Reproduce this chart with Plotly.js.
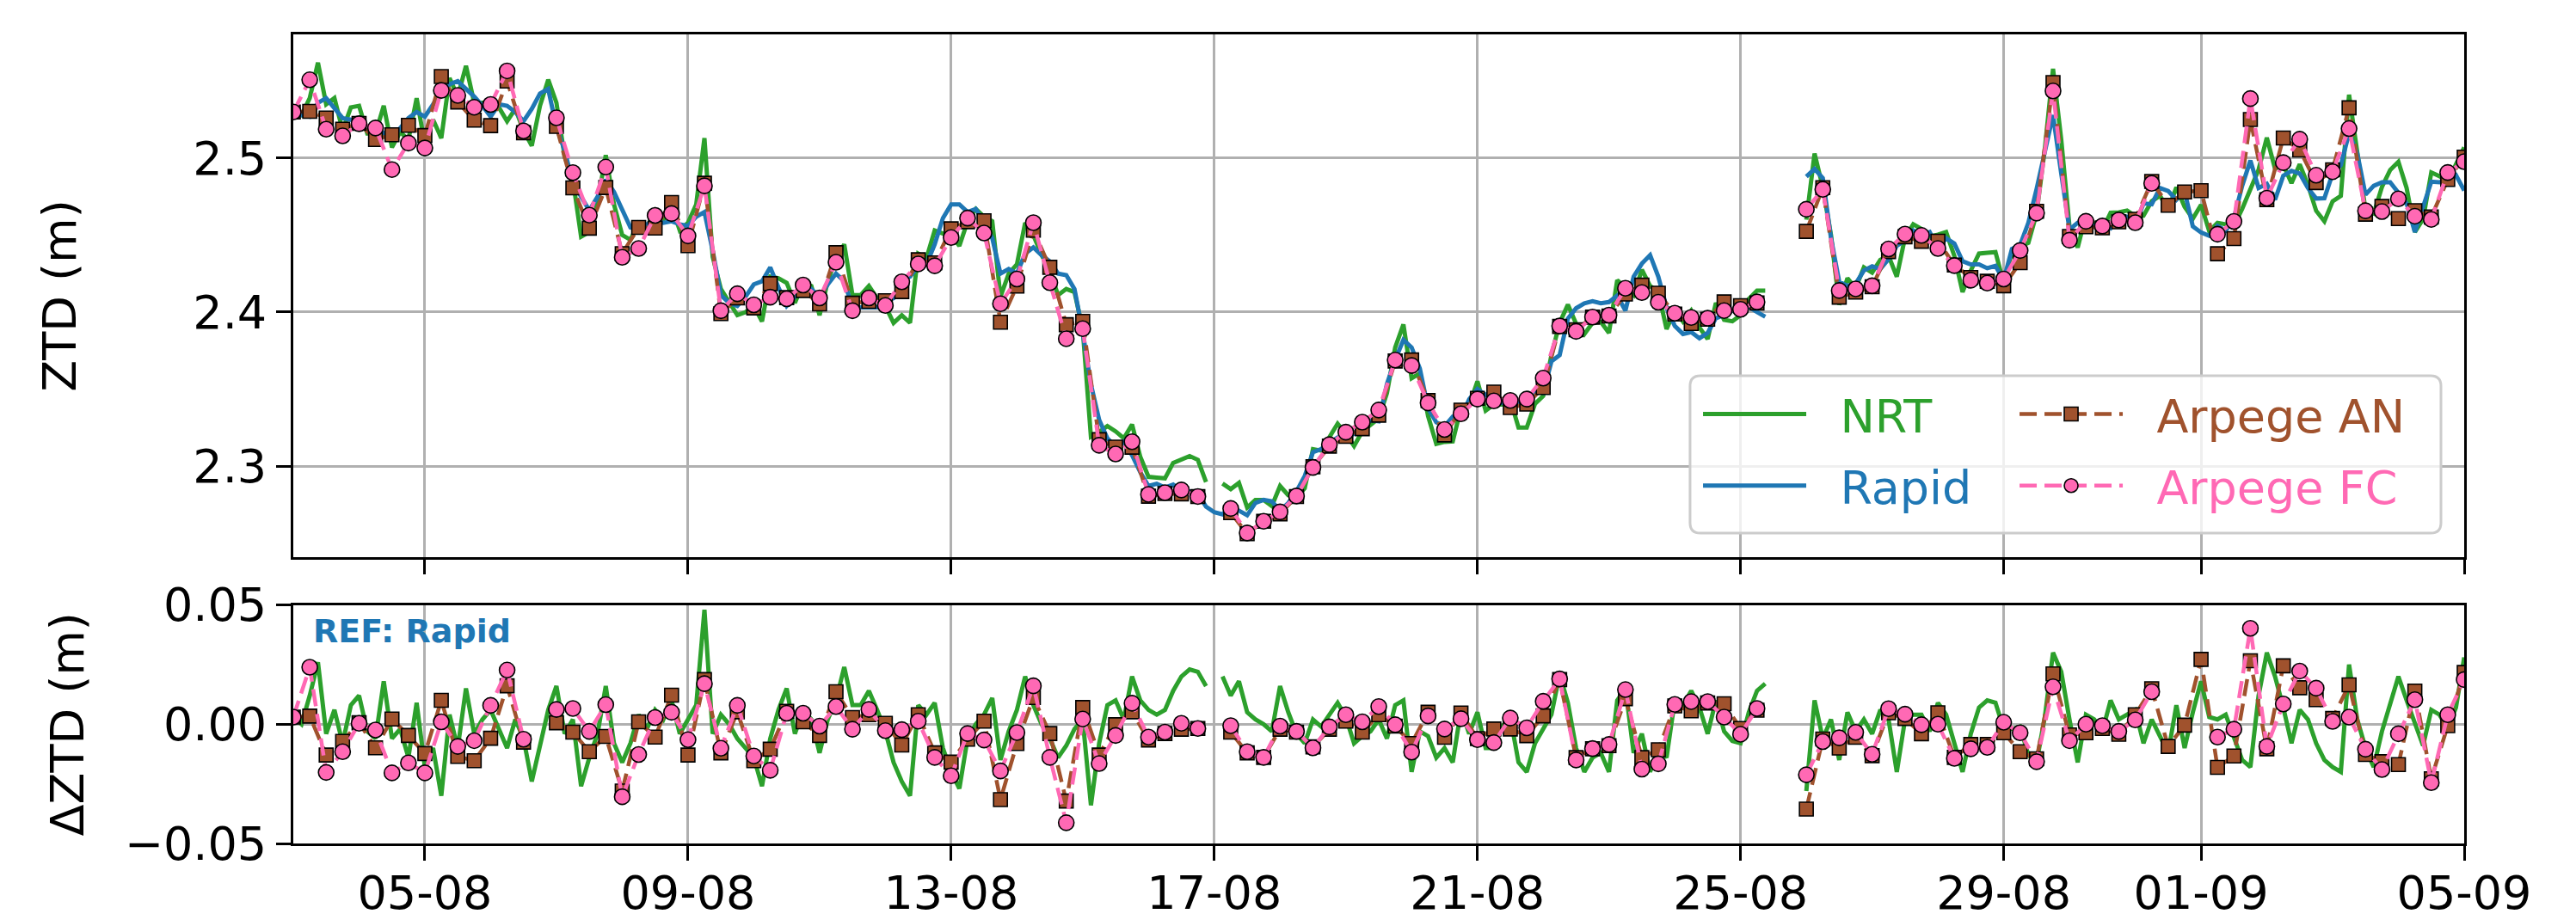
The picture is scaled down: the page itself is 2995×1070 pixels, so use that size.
<!DOCTYPE html>
<html>
<head>
<meta charset="utf-8">
<script src="https://cdn.plot.ly/plotly-3.0.1.min.js"></script>
<style>html,body{margin:0;padding:0;background:#fff;}#chart{width:2995px;height:1070px;}</style>
</head>
<body>
<div id="chart"></div>
<script>
// ---------------- DATA ----------------
// start of the series (UTC), sampling steps in hours
const START = Date.UTC(2023, 7, 3, 0, 0);
const STEP_RAPID_H = 3;   // Rapid and NRT sampling used here
const STEP_ARPEGE_H = 6;  // Arpege AN / FC sampling

// Rapid ZTD (m), every 3 h from 03-08 00:00 to 05-09 00:00 (one row per day)
const rapidZTD = [
 2.527,2.528,2.527,2.536,2.539,2.533,2.526,2.525,
 2.522,2.519,2.522,2.516,2.513,2.519,2.526,2.530,
 2.527,2.535,2.543,2.548,2.550,2.545,2.540,2.534,
 2.527,2.535,2.534,2.530,2.524,2.532,2.542,2.545,
 2.520,2.505,2.484,2.475,2.466,2.475,2.486,2.478,
 2.466,2.455,2.454,2.457,2.460,2.458,2.459,2.457,
 2.456,2.462,2.465,2.440,2.411,2.406,2.404,2.410,
 2.418,2.420,2.429,2.416,2.404,2.410,2.413,2.415,
 2.410,2.418,2.425,2.420,2.403,2.403,2.403,2.403,
 2.407,2.409,2.422,2.423,2.430,2.431,2.444,2.461,
 2.470,2.470,2.465,2.467,2.458,2.448,2.425,2.428,
 2.425,2.438,2.442,2.437,2.433,2.425,2.424,2.415,
 2.387,2.353,2.330,2.318,2.3125,2.316,2.307,2.296,
 2.287,2.2885,2.286,2.288,2.284,2.2835,2.282,2.2736,
 2.270,2.2686,2.273,2.271,2.268,2.276,2.278,2.277,
 2.271,2.276,2.2835,2.2935,2.309,2.311,2.315,2.3185,
 2.318,2.321,2.3275,2.3297,2.329,2.3534,2.369,2.382,
 2.377,2.3633,2.3375,2.3284,2.3257,2.332,2.3316,2.3434,
 2.350,2.346,2.350,2.341,2.340,2.341,2.345,2.3484,
 2.3475,2.368,2.372,2.3958,2.4025,2.4057,2.407,2.4057,
 2.4065,2.4107,2.401,2.423,2.4315,2.437,2.423,2.403,
 2.391,2.3858,2.387,2.383,2.3865,2.396,2.398,2.401,
 2.406,2.4035,2.400,2.397,null,null,null,null,
 2.488,2.493,2.487,2.448,2.4197,2.417,2.4185,2.427,
 2.4297,2.428,2.4345,2.443,2.4465,2.453,2.450,2.452,
 2.4413,2.448,2.4445,2.433,2.431,2.431,2.4285,2.430,
 2.4207,2.441,2.4436,2.458,2.480,2.503,2.528,2.490,
 2.4536,2.458,2.459,2.4557,2.4565,2.4545,2.4628,2.462,
 2.4563,2.4706,2.470,2.4806,2.4787,2.473,2.4784,2.4557,
 2.4517,2.4495,2.456,2.453,2.461,2.482,2.4985,2.4806,
 2.4833,2.473,2.4886,2.4918,2.490,2.4806,2.4738,2.474,
 2.490,2.4955,2.5162,2.503,2.4763,2.482,2.4843,2.4843,
 2.4776,2.4706,2.452,2.4694,2.4847,2.4843,2.4867,2.489,
 2.479
];

// NRT − Rapid (mm), every 3 h
const nrtMinusRapid = [
 3,0,12,26,-4,6,-8,8,
 12,-3,-6,18,-6,-2,-14,9,
 -18,-10,-30,4,-10,15,-4,2,
 6,-2,-10,2,-6,-24,-8,6,
 16,-4,2,-26,-14,-4,16,-8,
 -16,-8,4,-2,6,2,10,-4,
 2,8,48,-4,4,0,-6,-10,
 -14,-26,-6,6,15,-4,6,2,
 -12,2,10,24,8,8,14,6,
 -3,-16,-24,-30,8,4,9,-10,
 -20,-27,-6,0,4,11,-15,-3,
 6,20,8,0,-6,-14,-9,-2,
 2,-34,-8,8,10,2,20,10,
 6,4,6,14,20,23,22,16,
 null,20,12,18,5,2,0,-3,
 16,5,-4,-8,2,-1,4,9,
 3,-8,-5,-3,2,-6,8,10,
 -20,-3,-5,-14,-10,-16,6,-4,
 5,-10,-10,-1,3,-16,-20,-8,
 -2,4,21,9,-10,-20,-14,-12,
 -20,10,15,-12,-4,-20,-10,-14,
 10,8,14,7,-4,10,-3,-7,
 -8,5,14,17,null,null,null,null,
 -28,10,-6,2,-15,5,-3,2,
 -4,6,2,-20,2,4,4,-3,
 9,4,-8,-20,-4,7,10,9,
 -2,-2,-1,-13,-16,3,30,22,
 2,-16,4,2,-3,10,2,4,
 6,-8,2,-5,-12,8,-10,5,
 18,3,2,4,-5,-15,-18,12,
 30,20,7,-8,6,2,-8,-15,
 -18,-20,25,2,-10,-18,-3,8,
 20,10,0,-9,6,4,-2,7,
 28
];

// Arpege AN − Rapid (mm), every 6 h
const arpegeANMinusRapid = [
 3,3.4,-12.9,-7.2,  0.6,-9.9,2.2,-4.7,  -12.3,10.0,-13.5,-15.3,  -5.9,16.1,-7.5,null,
 0.6,-3.3,-11.5,-5.1,  -28.0,1.0,-5.4,12.2,  -12.9,18.7,-12.0,5.2,  -15.3,-10.5,5.4,1.0,
 -4.7,13.6,2.8,4.0,  0.4,-8.7,4.0,-12.0,  -15.9,-6.3,1.3,-31.6,  -8.1,11.2,-3.9,-32.2,
 7.0,-12.9,-0.2,5.2,  -6.6,-3.9,-2.1,-1.8,  null,-3.3,-12.0,-13.9,  -2.1,-3.3,-9.5,-2.1,
 1.3,-3.3,4.0,-0.8,  -8.1,5.0,-5.5,4.7,  -6.0,-2.0,-2.0,-4.8,  3.5,18.7,-14.0,-10.3,
 -9.0,10.7,-14.0,-10.7,  7.7,5.6,8.9,8.6,  -1.8,5.9,null,null,  -35.6,-6.2,-10.0,-5.5,
 -13.2,4.8,2.4,-4.0,  4.8,-13.9,-8.5,-8.5,  -3.6,-11.5,-14.5,21.1,  -4.5,-3.6,-1.8,-4.2,
 4.0,14.9,-9.3,-0.4,  27.2,-18.1,-13.3,26.6,  -10.3,24.5,15.3,10.3,  2.4,16.5,-12.7,-15.7,
 -16.9,13.9,-22.9,-0.6,  21.7
];

// Arpege FC − Rapid (mm), every 6 h
const arpegeFCMinusRapid = [
 3.0,23.9,-20.2,-11.5,  0.4,-2.4,-20.4,-16.2,  -20.4,1.0,-9.3,-6.9,  7.9,22.7,-6.3,null,
 6.2,6.6,-3.0,8.2,  -30.4,-12.7,2.8,5.0,  -6.5,17.0,-10.1,7.9,  -13.3,-19.3,4.6,4.6,
 -0.8,7.4,-2.1,6.2,  -2.7,-2.3,1.3,-13.9,  -21.6,-3.9,-6.6,-19.6,  -3.5,16.1,-13.9,-41.3,
 2.2,-16.5,-4.7,8.8,  -5.4,-3.3,0.4,-1.8,  null,-0.6,-11.5,-13.9,  -0.8,-3.0,-9.9,-1.1,
 4.0,1.0,7.4,-0.2,  -11.7,3.5,-2.0,2.3,  -6.5,-7.7,2.6,-1.5,  9.6,19.0,-15.0,-10.2,
 -8.5,14.5,-18.8,-16.6,  8.3,9.5,9.5,3.0,  -4.2,6.6,null,null,  -21.2,-7.3,-5.7,-3.4,
 -12.6,6.5,4.2,-0.2,  0,-14.3,-10.3,-9.7,  0.8,-3.6,-15.7,15.7,  -6.9,0,-0.6,-3.0,
 1.8,13.6,null,null,  null,-5.4,-2.1,40.2,  -9.3,8.5,22.3,15.1,  1.2,3.0,-10.5,-19.0,
 -4.0,10.3,-24.5,4.0,  18.7
];

// axis ticks
const xTickDates = ['2023-08-05','2023-08-09','2023-08-13','2023-08-17','2023-08-21','2023-08-25','2023-08-29','2023-09-01','2023-09-05'];
const xTickLabels = ['05-08','09-08','13-08','17-08','21-08','25-08','29-08','01-09','05-09'];
const xRange = ['2023-08-03 00:00','2023-09-05 00:00'];
const ztdTicks = [2.3, 2.4, 2.5];
const ztdTickLabels = ['2.3','2.4','2.5'];
const dztdTicks = [-0.05, 0, 0.05];
const dztdTickLabels = ['\u22120.05','0.00','0.05'];

// ---------------- BUILD ----------------
function stamps(n, stepH) {
  const out = [];
  for (let i = 0; i < n; i++) {
    const d = new Date(START + i * stepH * 3600e3);
    out.push(d.toISOString().slice(0, 16).replace('T', ' '));
  }
  return out;
}
const t3 = stamps(rapidZTD.length, STEP_RAPID_H);
const t6 = stamps(arpegeANMinusRapid.length, STEP_ARPEGE_H);
const ratio = STEP_ARPEGE_H / STEP_RAPID_H;
const rapidAt6 = t6.map((_, i) => rapidZTD[i * ratio]);
const addMM = (base, mm) => base.map((b, i) => (b === null || mm[i] === null) ? null : +(b + mm[i] / 1000).toFixed(5));
const mToM = mm => mm.map(v => v === null ? null : v / 1000);

const nrtZTD = addMM(rapidZTD, nrtMinusRapid);
const anZTD = addMM(rapidAt6, arpegeANMinusRapid);
const fcZTD = addMM(rapidAt6, arpegeFCMinusRapid);
// bottom-panel differences (m); keep gaps where Rapid is missing
const dNRT = mToM(nrtMinusRapid).map((v, i) => rapidZTD[i] === null ? null : v);
const dAN = mToM(arpegeANMinusRapid);
const dFC = mToM(arpegeFCMinusRapid);

const GREEN = '#2ca02c', BLUE = '#1f77b4', SIENNA = '#a0522d', PINK = '#ff69b4';
const FONT = 'DejaVu Sans, Liberation Sans, sans-serif';
const DASH = '20px,9px';
const LW = 5, DLW = 4.5;
const sp = '\u00a0\u00a0';
const sqMarker = {symbol: 'square', size: 16, color: SIENNA, line: {color: '#000', width: 1.6}};
const ciMarker = {symbol: 'circle', size: 18, color: PINK, line: {color: '#000', width: 1.6}};

const traces = [
  {x: t3, y: nrtZTD, xaxis: 'x', yaxis: 'y', mode: 'lines', line: {color: GREEN, width: LW},
   name: sp + '<span style="color:' + GREEN + '">NRT</span>', legend: 'legend', legendgroup: 'a', legendrank: 1},
  {x: t3, y: rapidZTD, xaxis: 'x', yaxis: 'y', mode: 'lines', line: {color: BLUE, width: LW},
   name: sp + '<span style="color:' + BLUE + '">Rapid</span>', legend: 'legend', legendgroup: 'b', legendrank: 2},
  {x: t6, y: anZTD, xaxis: 'x', yaxis: 'y', mode: 'lines+markers', line: {color: SIENNA, width: DLW, dash: DASH},
   marker: sqMarker,
   name: sp + '<span style="color:' + SIENNA + '">Arpege AN</span>', legend: 'legend2', legendgroup: 'c', legendrank: 3},
  {x: t6, y: fcZTD, xaxis: 'x', yaxis: 'y', mode: 'lines+markers', line: {color: PINK, width: DLW, dash: DASH},
   marker: ciMarker,
   name: sp + '<span style="color:' + PINK + '">Arpege FC</span>', legend: 'legend2', legendgroup: 'd', legendrank: 4},
  {x: t3, y: dNRT, xaxis: 'x2', yaxis: 'y2', mode: 'lines', line: {color: GREEN, width: LW}, showlegend: false},
  {x: t6, y: dAN, xaxis: 'x2', yaxis: 'y2', mode: 'lines+markers', line: {color: SIENNA, width: DLW, dash: DASH},
   marker: sqMarker, showlegend: false},
  {x: t6, y: dFC, xaxis: 'x2', yaxis: 'y2', mode: 'lines+markers', line: {color: PINK, width: DLW, dash: DASH},
   marker: ciMarker, showlegend: false}
];

const axCommon = {
  showline: true, linecolor: '#000', linewidth: 3, mirror: true,
  ticks: 'outside', ticklen: 17, tickwidth: 3, tickcolor: '#000',
  showgrid: true, gridcolor: '#b0b0b0', gridwidth: 3, zeroline: false,
  tickfont: {family: FONT, size: 54, color: '#000'}
};
const xCommon = Object.assign({}, axCommon, {type: 'date', range: xRange, tickmode: 'array', tickvals: xTickDates, ticktext: xTickLabels});

// legend frame (decoration)
const L = {x0: 0.6434, x1: 0.9893, y0: 0.3836, y1: 0.5781, rx: 0.0048, ry: 0.0128};
const framePath = `M ${L.x0 + L.rx},${L.y0} L ${L.x1 - L.rx},${L.y0} Q ${L.x1},${L.y0} ${L.x1},${L.y0 + L.ry} L ${L.x1},${L.y1 - L.ry} Q ${L.x1},${L.y1} ${L.x1 - L.rx},${L.y1} L ${L.x0 + L.rx},${L.y1} Q ${L.x0},${L.y1} ${L.x0},${L.y1 - L.ry} L ${L.x0},${L.y0 + L.ry} Q ${L.x0},${L.y0} ${L.x0 + L.rx},${L.y0} Z`;

const legendCommon = {
  orientation: 'v', xanchor: 'left', yanchor: 'top', y: 0.575,
  bgcolor: 'rgba(0,0,0,0)', borderwidth: 0, itemwidth: 120, tracegroupgap: 10,
  font: {family: FONT, size: 54, color: '#000'}
};

const layout = {
  width: 2995, height: 1070,
  margin: {l: 341, r: 130, t: 40, b: 89, pad: 0},
  paper_bgcolor: '#fff', plot_bgcolor: '#fff',
  font: {family: FONT, size: 54, color: '#000'},
  showlegend: true,
  xaxis: Object.assign({}, xCommon, {anchor: 'y', showticklabels: false}),
  xaxis2: Object.assign({}, xCommon, {anchor: 'y2', matches: 'x', showticklabels: true, ticklabelstandoff: -9}),
  yaxis: Object.assign({}, axCommon, {domain: [0.3539, 1], range: [2.2408, 2.5804], tickmode: 'array',
    tickvals: ztdTicks, ticktext: ztdTickLabels, anchor: 'x',
    title: {text: 'ZTD (m)', font: {family: FONT, size: 54, color: '#000'}, standoff: 119}}),
  yaxis2: Object.assign({}, axCommon, {domain: [0, 0.2948], range: [-0.05, 0.05], tickmode: 'array',
    tickvals: dztdTicks, ticktext: dztdTickLabels, anchor: 'x2',
    title: {text: '\u0394ZTD (m)', font: {family: FONT, size: 54, color: '#000'}, standoff: 30}}),
  legend: Object.assign({}, legendCommon, {x: 0.6474}),
  legend2: Object.assign({}, legendCommon, {x: 0.7932}),
  shapes: [{type: 'path', xref: 'paper', yref: 'paper', path: framePath, layer: 'above',
    fillcolor: 'rgba(255,255,255,0.8)', line: {color: '#cccccc', width: 3}}],
  annotations: [{xref: 'x2 domain', yref: 'y2 domain', x: 0.0087, y: 0.973, xanchor: 'left', yanchor: 'top',
    text: '<b>REF: Rapid</b>', showarrow: false, font: {family: FONT, size: 38, color: BLUE}, borderpad: 0}]
};

Plotly.newPlot('chart', traces, layout, {staticPlot: true, displayModeBar: false});
</script>
</body>
</html>
